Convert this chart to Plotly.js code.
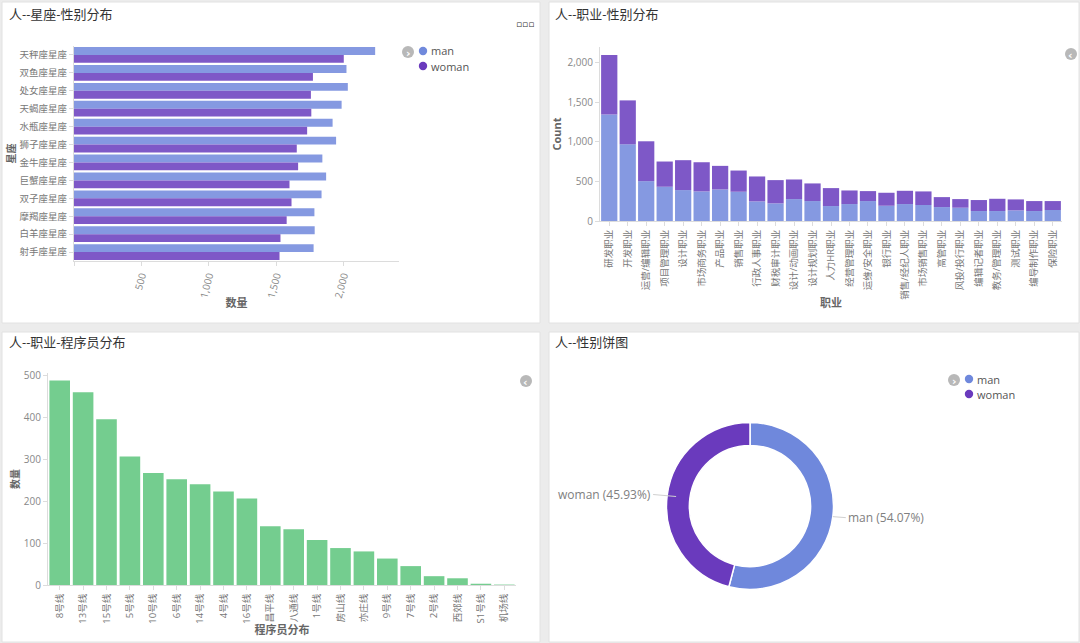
<!DOCTYPE html>
<html>
<head>
<meta charset="utf-8">
<script src="https://cdn.plot.ly/plotly-3.0.1.min.js"></script>
<style>
  html, body { margin: 0; padding: 0; background: #ececec; }
  #chart { width: 1080px; height: 643px; }
</style>
</head>
<body>
<div id="chart"></div>
<script>
// ---------- data ----------
const zodiacSigns = ['天秤座星座','双鱼座星座','处女座星座','天蝎座星座','水瓶座星座','狮子座星座','金牛座星座','巨蟹座星座','双子座星座','摩羯座星座','白羊座星座','射手座星座'];
const zodiacMan   = [2236, 2023, 2033, 1987, 1920, 1946, 1844, 1872, 1838, 1785, 1787, 1779];
const zodiacWoman = [2003, 1774, 1759, 1762, 1731, 1654, 1664, 1600, 1615, 1579, 1533, 1526];
const zodiacTickVals = [0, 500, 1000, 1500, 2000];
const zodiacTickText = ['', '500', '1,000', '1,500', '2,000'];

const jobs = ['研发职业','开发职业','运营/编辑职业','项目管理职业','设计职业','市场商务职业','产品职业','销售职业','行政人事职业','财税审计职业','设计/动画职业','设计规划职业','人力HR职业','经营管理职业','运维/安全职业','银行职业','销售/经纪人职业','市场销售职业','高管职业','风投/投行职业','编辑记者职业','教务/管理职业','测试职业','编导制作职业','保险职业'];
const jobMan   = [1348, 970, 504, 433, 391, 374, 399, 370, 248, 223, 277, 252, 189, 214, 252, 193, 214, 202, 176, 168, 126, 126, 134, 126, 139];
const jobWoman = [752, 555, 504, 319, 378, 369, 298, 268, 315, 294, 248, 223, 227, 172, 126, 164, 168, 172, 126, 109, 139, 155, 139, 126, 113];

const metroLines = ['8号线','13号线','15号线','5号线','10号线','6号线','14号线','4号线','16号线','昌平线','八通线','1号线','房山线','亦庄线','9号线','7号线','2号线','西郊线','S1号线','机场线'];
const programmerCounts = [487, 459, 395, 306, 267, 252, 240, 223, 206, 140, 133, 107, 88, 80, 63, 45, 21, 16, 3, 1];

const genders = ['man', 'woman'];
const genderShare = [54.07, 45.93];

// ---------- styles ----------
const W = 1080, H = 643;
const px = x => x / W;
const py = y => 1 - y / H;
const FONT = 'Open Sans, Noto Sans CJK SC, sans-serif';
const barMan = '#8599e1', barWoman = '#7e58c7';
const pieMan = '#6f88dc', pieWoman = '#6a3abd';
const green = '#74cd8f';
const axisLine = '#dcdcdc';
const tickFont = {family: FONT, size: 10, color: '#888'};
const catFont = {family: FONT, size: 9.5, color: '#777'};
const axTitleFont = {family: FONT, size: 11, color: '#666', weight: 'bold'};

// donut geometry (pixels)
const pieCx = 750, pieCy = 506, pieR = 83.5;

const traces = [
  {type: 'bar', orientation: 'h', name: 'man', y: zodiacSigns, x: zodiacMan,
   marker: {color: barMan}, xaxis: 'x', yaxis: 'y', showlegend: false},
  {type: 'bar', orientation: 'h', name: 'woman', y: zodiacSigns, x: zodiacWoman,
   marker: {color: barWoman}, xaxis: 'x', yaxis: 'y', showlegend: false},
  {type: 'bar', name: 'man', x: jobs, y: jobMan, offsetgroup: 'job',
   marker: {color: barMan}, xaxis: 'x2', yaxis: 'y2', showlegend: false},
  {type: 'bar', name: 'woman', x: jobs, y: jobWoman, base: jobMan, offsetgroup: 'job',
   marker: {color: barWoman}, xaxis: 'x2', yaxis: 'y2', showlegend: false},
  {type: 'bar', name: '数量', x: metroLines, y: programmerCounts,
   marker: {color: green}, xaxis: 'x3', yaxis: 'y3', showlegend: false},
  {type: 'pie', labels: genders, values: genderShare, hole: 0.726, sort: false,
   direction: 'clockwise', rotation: 0,
   marker: {colors: [pieMan, pieWoman], line: {color: '#ffffff', width: 1.5}},
   textinfo: 'none',
   domain: {x: [px(pieCx - pieR), px(pieCx + pieR)], y: [py(pieCy + pieR), py(pieCy - pieR)]},
   showlegend: false, automargin: false}
];

// outside labels with leader lines, positioned from the slice mid-angles
const totalShare = genderShare.reduce((a, b) => a + b, 0);
const pieLabels = [];
let cum = 0;
genderShare.forEach((v, i) => {
  const mid = (cum + v / 2) / totalShare;
  cum += v;
  const th = 2 * Math.PI * mid;
  const sx = Math.sin(th), cy = -Math.cos(th);
  const right = sx >= 0;
  const r = right ? pieR : pieR - 9;
  const text = genders[i] + ' (' + (v / totalShare * 100).toFixed(2) + '%)';
  pieLabels.push({
    text, xref: 'paper', yref: 'paper',
    x: px(pieCx + r * sx), y: py(pieCy + r * cy),
    ax: right ? 13 : -23, ay: right ? 1 : -2,
    xanchor: right ? 'left' : 'right', yanchor: 'middle',
    showarrow: true, arrowhead: 0, arrowwidth: 1, arrowcolor: '#d0d0d0', standoff: 0,
    font: {family: FONT, size: 12, color: '#808080'}
  });
});

const card = (x0, y0, x1, y1) => ({
  type: 'rect', xref: 'paper', yref: 'paper', layer: 'below',
  x0: px(x0), x1: px(x1), y0: py(y1), y1: py(y0),
  fillcolor: '#ffffff', line: {color: '#e2e2e2', width: 1}
});
const dot = (x, y, r, color) => ({
  type: 'circle', xref: 'paper', yref: 'paper', layer: 'above',
  x0: px(x - r), x1: px(x + r), y0: py(y + r), y1: py(y - r),
  fillcolor: color, line: {width: 0}
});
const title = (text, x, y) => ({
  text, xref: 'paper', yref: 'paper', x: px(x), y: py(y), xanchor: 'left', yanchor: 'middle',
  showarrow: false, font: {family: FONT, size: 13, color: '#333'}
});
const iconChar = (x, y, ch) => ({
  text: ch, xref: 'paper', yref: 'paper', x: px(x), y: py(y + 1), xanchor: 'center', yanchor: 'middle',
  showarrow: false, font: {family: 'DejaVu Sans', size: 11, color: '#ffffff', weight: 'bold'}
});
const legendName = (name, x, y) => ({
  text: name, xref: 'paper', yref: 'paper', x: px(x), y: py(y), xanchor: 'left', yanchor: 'middle',
  showarrow: false, font: {family: FONT, size: 11, color: '#555'}
});

const layout = {
  width: W, height: H,
  margin: {l: 0, r: 0, t: 0, b: 0},
  paper_bgcolor: '#ececec', plot_bgcolor: 'rgba(0,0,0,0)',
  font: {family: FONT, color: '#777'},
  barmode: 'group', bargap: 0.12, bargroupgap: 0,
  showlegend: false,
  shapes: [
    card(2, 2, 540, 323), card(549, 2, 1079, 323), card(2, 332, 540, 642), card(549, 332, 1079, 642),
    dot(408, 52, 6, '#b8b8b8'), dot(1071, 54, 6, '#b8b8b8'), dot(526, 381, 6, '#b8b8b8'), dot(954, 380, 6, '#b8b8b8'),
    dot(423, 51, 4.2, '#7089dc'), dot(423, 66, 4.2, '#6a3abd'),
    dot(969, 379, 4.2, pieMan), dot(969, 394, 4.2, pieWoman)
  ],
  annotations: [
    title('人--星座-性别分布', 7, 14),
    title('人--职业-性别分布', 553, 14),
    title('人--职业-程序员分布', 7, 342),
    title('人--性别饼图', 553, 342),
    {text: '▫▫▫', xref: 'paper', yref: 'paper', x: px(525), y: py(17), showarrow: false,
     font: {family: 'DejaVu Sans', size: 9, color: '#333'}},
    iconChar(408.5, 52, '›'),
    iconChar(1070.5, 54, '‹'),
    iconChar(525.5, 381, '‹'),
    iconChar(954.5, 380, '›'),
    legendName(genders[0], 429, 51), legendName(genders[1], 429, 66),
    legendName(genders[0], 975, 379), legendName(genders[1], 975, 394),
    ...pieLabels
  ],
  xaxis: {domain: [px(74), px(399)], anchor: 'y', range: [0, 2413],
    tickvals: zodiacTickVals, ticktext: zodiacTickText, tickangle: -75,
    showline: true, linecolor: axisLine, ticks: 'outside', ticklen: 4, tickcolor: axisLine,
    showgrid: false, zeroline: false, tickfont: tickFont,
    title: {text: '数量', font: axTitleFont, standoff: 0}},
  yaxis: {domain: [py(261), py(46)], anchor: 'x', autorange: 'reversed', type: 'category',
    showline: true, linecolor: axisLine, ticks: 'outside', ticklen: 4, tickcolor: axisLine,
    showgrid: false, zeroline: false, tickfont: catFont,
    title: {text: '星座', font: {family: FONT, size: 10, color: '#666', weight: 'bold'}, standoff: 2}},
  xaxis2: {domain: [px(600), px(1062)], anchor: 'y2', type: 'category', tickangle: -90,
    showline: true, linecolor: axisLine, ticks: 'outside', ticklen: 4, tickcolor: axisLine,
    showgrid: false, zeroline: false, tickfont: catFont,
    title: {text: '职业', font: axTitleFont, standoff: 0}},
  yaxis2: {domain: [py(221), py(47)], anchor: 'x2', range: [0, 2200],
    tickvals: [0, 500, 1000, 1500, 2000], tickformat: ',d',
    showline: true, linecolor: axisLine, ticks: 'outside', ticklen: 4, tickcolor: axisLine,
    showgrid: false, zeroline: false, tickfont: tickFont,
    title: {text: 'Count', font: axTitleFont, standoff: 3}},
  xaxis3: {domain: [px(48), px(516)], anchor: 'y3', type: 'category', tickangle: -90,
    showline: true, linecolor: axisLine, ticks: 'outside', ticklen: 4, tickcolor: axisLine,
    showgrid: false, zeroline: false, tickfont: catFont,
    title: {text: '程序员分布', font: axTitleFont, standoff: 3}},
  yaxis3: {domain: [py(585), py(373)], anchor: 'x3', range: [0, 505],
    tickvals: [0, 100, 200, 300, 400, 500],
    showline: true, linecolor: axisLine, ticks: 'outside', ticklen: 4, tickcolor: axisLine,
    showgrid: false, zeroline: false, tickfont: tickFont,
    title: {text: '数量', font: {family: FONT, size: 10, color: '#666', weight: 'bold'}, standoff: 2}}
};

Plotly.newPlot('chart', traces, layout, {displayModeBar: false, staticPlot: true});
</script>
</body>
</html>
